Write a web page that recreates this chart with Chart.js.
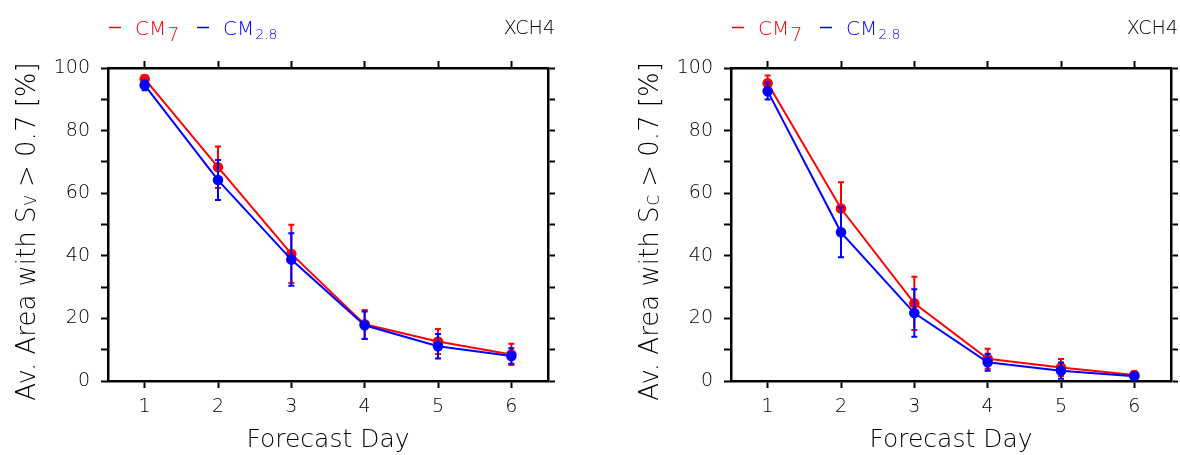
<!DOCTYPE html>
<html><head><meta charset="utf-8">
<script src="https://cdn.jsdelivr.net/npm/chart.js@4/dist/chart.umd.min.js"></script>
<style>
html,body{margin:0;padding:0;background:#fff;width:1180px;height:455px;overflow:hidden}
.box{position:absolute;top:0;height:455px}
#b1{left:0;width:590px}
#b2{left:623px;width:557px}
</style></head><body>
<div class="box" id="b1"><canvas id="c1" width="590" height="455"></canvas></div>
<div class="box" id="b2"><canvas id="c2" width="557" height="455"></canvas></div>
<script>
// ---- data ----
const forecastDays = [1, 2, 3, 4, 5, 6];
const yTickValues = [0, 10, 20, 30, 40, 50, 60, 70, 80, 90, 100];
const yLabelValues = [0, 20, 40, 60, 80, 100];
const seriesNames = ['CM', 'CM'];
const seriesSubs = ['7', '2.8'];
const panelVar = 'XCH4';

// Left panel: S_V
const svCM7 = [96.5, 68.3, 40.6, 18.1, 12.6, 8.5];
const svCM7Err = [1.2, 6.6, 9.3, 4.6, 4.0, 3.4];
const svCM28 = [94.5, 64.2, 38.8, 17.8, 11.1, 8.0];
const svCM28Err = [1.6, 6.4, 8.4, 4.4, 3.9, 2.5];
// Right panel: S_C
const scCM7 = [95.1, 55.1, 24.8, 7.1, 4.3, 1.9];
const scCM7Err = [2.5, 8.4, 8.5, 3.2, 2.7, 1.2];
const scCM28 = [92.6, 47.5, 21.7, 6.0, 3.3, 1.5];
const scCM28Err = [2.7, 8.0, 7.6, 2.7, 2.6, 1.0];

const RED = '#ff0000', BLUE = '#0000ff';
const FONT = "'DejaVu Sans', sans-serif";
const W = '200 ';

function pts(vals) { return forecastDays.map((d, i) => ({ x: d, y: vals[i] })); }

const errorBars = {
  id: 'errorBars',
  afterDatasetDraw(chart, args) {
    const ds = chart.data.datasets[args.index];
    if (!ds.errors) return;
    const ys = chart.scales.y, ctx = chart.ctx;
    ctx.save();
    ctx.strokeStyle = ds.borderColor;
    ctx.lineWidth = 2;
    args.meta.data.forEach((pt, i) => {
      const v = ds.data[i].y, e = ds.errors[i];
      const x = pt.x, yt = ys.getPixelForValue(v + e), yb = ys.getPixelForValue(v - e);
      ctx.beginPath();
      ctx.moveTo(x, yt); ctx.lineTo(x, yb);
      ctx.moveTo(x - 3, yt); ctx.lineTo(x + 3, yt);
      ctx.moveTo(x - 3, yb); ctx.lineTo(x + 3, yb);
      ctx.stroke();
    });
    ctx.restore();
  }
};

const decor = {
  id: 'decor',
  afterDraw(chart, args, opts) {
    const ctx = chart.ctx, a = chart.chartArea;
    ctx.save();
    // y-axis title with subscript, rotated
    ctx.translate(35, 232);
    ctx.rotate(-Math.PI / 2);
    ctx.fillStyle = '#000';
    ctx.textBaseline = 'alphabetic';
    const big = W + "26px " + FONT, small = W + "15px " + FONT;
    const p1 = 'Av. Area with S', sub = opts.sub, p2 = ' > 0.7 [%]';
    ctx.font = big; const w1 = ctx.measureText(p1).width, w3 = ctx.measureText(p2).width;
    ctx.font = small; const w2 = ctx.measureText(sub).width;
    let x0 = -(w1 + w2 + w3) / 2;
    ctx.font = big; ctx.textAlign = 'left'; ctx.fillText(p1, x0, 0);
    ctx.font = small; ctx.fillText(sub, x0 + w1 + 1, 1);
    ctx.font = big; ctx.fillText(p2, x0 + w1 + w2 + 1, 0);
    ctx.restore();

    // legend
    ctx.save();
    ctx.textBaseline = 'alphabetic';
    ctx.textAlign = 'left';
    const items = [
      { c: RED, dash: 109, tx: 135, name: seriesNames[0], sub: seriesSubs[0], subSize: 19, subY: 41 },
      { c: BLUE, dash: 197, tx: 223, name: seriesNames[1], sub: seriesSubs[1], subSize: 14, subY: 38.5 }
    ];
    items.forEach(it => {
      ctx.strokeStyle = it.c; ctx.fillStyle = it.c; ctx.lineWidth = 1.5;
      ctx.beginPath(); ctx.moveTo(it.dash, 27.5); ctx.lineTo(it.dash + 12, 27.5); ctx.stroke();
      ctx.font = W + "20px " + FONT;
      ctx.fillText(it.name, it.tx, 34.5);
      const w = ctx.measureText(it.name).width;
      ctx.font = W + it.subSize + "px " + FONT;
      ctx.fillText(it.sub, it.tx + w + 1, it.subY);
    });
    ctx.fillStyle = '#000';
    ctx.font = W + "19px " + FONT;
    ctx.textAlign = 'right';
    ctx.fillText(panelVar, a.right + 7, 34);
    ctx.restore();
  }
};

function axisCommon(extra) {
  return Object.assign({
    border: { display: true, color: '#000', width: 2.5 },
    grid: { drawOnChartArea: false, drawTicks: true, tickLength: 7, tickWidth: 2, tickColor: '#000' }
  }, extra);
}

function makeChart(id, redVals, redErr, blueVals, blueErr, sub, rightW) {
  return new Chart(document.getElementById(id), {
    type: 'line',
    data: {
      datasets: [
        { label: 'CM7', data: pts(redVals), errors: redErr, borderColor: RED, backgroundColor: RED,
          pointBackgroundColor: RED, pointBorderColor: RED, borderWidth: 2, pointRadius: 4.3, order: 1, xAxisID: 'x', yAxisID: 'y' },
        { label: 'CM2.8', data: pts(blueVals), errors: blueErr, borderColor: BLUE, backgroundColor: BLUE,
          pointBackgroundColor: BLUE, pointBorderColor: BLUE, borderWidth: 2, pointRadius: 4.3, order: 0, xAxisID: 'x', yAxisID: 'y' }
      ]
    },
    options: {
      responsive: false, animation: false,
      layout: { padding: 0 },
      plugins: { legend: { display: false }, tooltip: { enabled: false }, decor: { sub: sub } },
      scales: {
        x: axisCommon({
          type: 'linear', position: 'bottom', min: 0.5, max: 6.5,
          afterBuildTicks: s => { s.ticks = forecastDays.map(v => ({ value: v })); },
          ticks: { color: '#000', font: { family: FONT, size: 19, weight: 200 }, padding: 8, maxRotation: 0,
                   callback: v => String(v) },
          title: { display: true, text: 'Forecast Day', color: '#000', font: { family: FONT, size: 25, weight: 200 },
                   padding: { top: 0, bottom: 0 } },
          afterFit: s => { s.height = 74; }
        }),
        x2: axisCommon({
          type: 'linear', position: 'top', min: 0.5, max: 6.5,
          afterBuildTicks: s => { s.ticks = forecastDays.map(v => ({ value: v })); },
          ticks: { display: false },
          afterFit: s => { s.height = 68; }
        }),
        y: axisCommon({
          type: 'linear', position: 'left', min: 0, max: 100,
          afterBuildTicks: s => { s.ticks = yTickValues.map(v => ({ value: v })); },
          ticks: { color: '#000', font: { family: FONT, size: 19, weight: 200 }, padding: 11,
                   callback: v => yLabelValues.includes(v) ? String(v) : '' },
          afterFit: s => { s.width = 108; }
        }),
        y2: axisCommon({
          type: 'linear', position: 'right', min: 0, max: 100,
          afterBuildTicks: s => { s.ticks = yTickValues.map(v => ({ value: v })); },
          ticks: { display: false },
          afterFit: s => { s.width = rightW; }
        })
      }
    },
    plugins: [errorBars, decor]
  });
}

makeChart('c1', svCM7, svCM7Err, svCM28, svCM28Err, 'V', 42);
makeChart('c2', scCM7, scCM7Err, scCM28, scCM28Err, 'C', 9);
</script>
</body></html>
